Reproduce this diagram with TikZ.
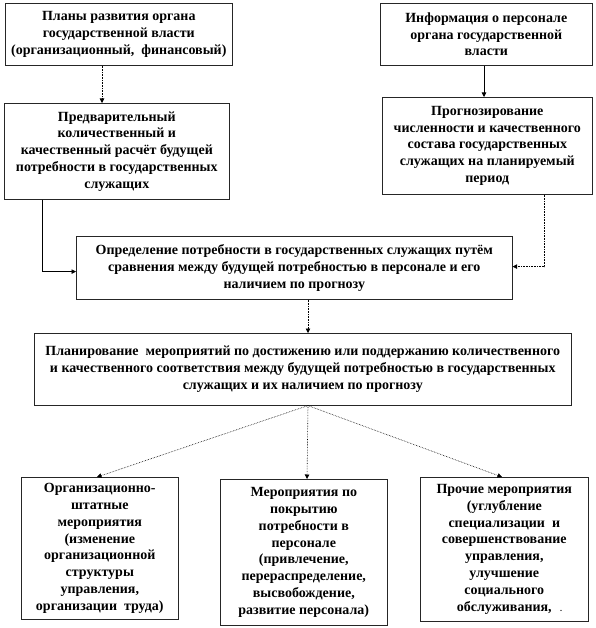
\documentclass[tikz,border=0pt]{standalone}
\usepackage{fontspec}
\setmainfont{Liberation Serif}
\usetikzlibrary{arrows.meta,calc}
\tikzset{
  box/.style={draw=black!85, line width=0.6pt, align=center, inner sep=2pt,
    font=\bfseries\fontsize{14}{16.8}\selectfont, anchor=north west},
  arr/.style={draw=black, line width=0.6pt, -{Triangle[width=4.5pt,length=4.5pt]}},
  darr/.style={arr, densely dotted},
}
\begin{document}
\begin{tikzpicture}[x=1pt,y=-1pt]
\useasboundingbox (0,0) rectangle (595,628);
% boxes (positioned by top-left corner, sizes in px)
\node[box, minimum width=227pt, minimum height=62pt] (b1) at (5,3)
  {Планы развития органа\\государственной власти\\(организационный,\ \ финансовый)};
\node[box, minimum width=212pt, minimum height=62pt] (b2) at (380,3)
  {Информация о персонале\\органа государственной\\власти};
\node[box, minimum width=225pt, minimum height=96pt] (b3) at (4,103)
  {Предварительный\\количественный и\\качественный расчёт будущей\\потребности в государственных\\служащих};
\node[box, minimum width=210pt, minimum height=97pt] (b4) at (382,97)
  {Прогнозирование\\численности и качественного\\состава государственных\\служащих на планируемый\\период};
\node[box, minimum width=436pt, minimum height=63pt] (b5) at (76,236)
  {Определение потребности в государственных служащих путём\\сравнения между будущей потребностью в персонале и его\\наличием по прогнозу};
\node[box, minimum width=537pt, minimum height=72pt] (b6) at (34,333)
  {Планирование\ \ мероприятий по достижению или поддержанию количественного\\и качественного соответствия между будущей потребностью в государственных\\служащих и их наличием по прогнозу};
\node[box, minimum width=157pt, minimum height=142pt] (b7) at (21,477)
  {Организационно-\\штатные\\мероприятия\\(изменение\\организационной\\структуры\\управления,\\организации\ \ труда)};
\node[box, minimum width=167pt, minimum height=146pt] (b8) at (220,479)
  {Мероприятия по\\покрытию\\потребности в\\персонале\\(привлечение,\\перераспределение,\\высвобождение,\\развитие персонала)};
\node[box, minimum width=168pt, minimum height=144pt] (b9) at (420,477)
  {Прочие мероприятия\\(углубление\\специализации\ \ и\\совершенствование\\управления,\\улучшение\\социального\\обслуживания,};
\node[font=\bfseries\fontsize{8}{8}\selectfont, inner sep=0pt] (dot) at (561,611) {.};
% connectors
\draw[darr] ($(b1.south west)+(97,0)$) -- ($(b3.north west)+(98,0)$);
\draw[arr] ($(b2.south west)+(104,0)$) -- ($(b4.north west)+(102,0)$);
\coordinate (lc) at ($(b3.south west)+(38,72)$);
\draw[arr] ($(b3.south west)+(38,0)$) -- (lc) -- (lc -| b5.west);
\coordinate (rc) at ($(b4.south west)+(162,72)$);
\draw[darr] ($(b4.south west)+(162,0)$) -- (rc) -- (rc -| b5.east);
\draw[darr] ($(b5.south west)+(232,0)$) -- ($(b6.north west)+(274,0)$);
\coordinate (apex) at ($(b6.south west)+(274,0)$);
\draw[darr] (apex) -- ($(b7.north west)+(76,0)$);
\draw[darr] (apex) -- ($(b8.north west)+(87,0)$);
\draw[darr] (apex) -- ($(b9.north west)+(82,0)$);
\end{tikzpicture}
\end{document}
